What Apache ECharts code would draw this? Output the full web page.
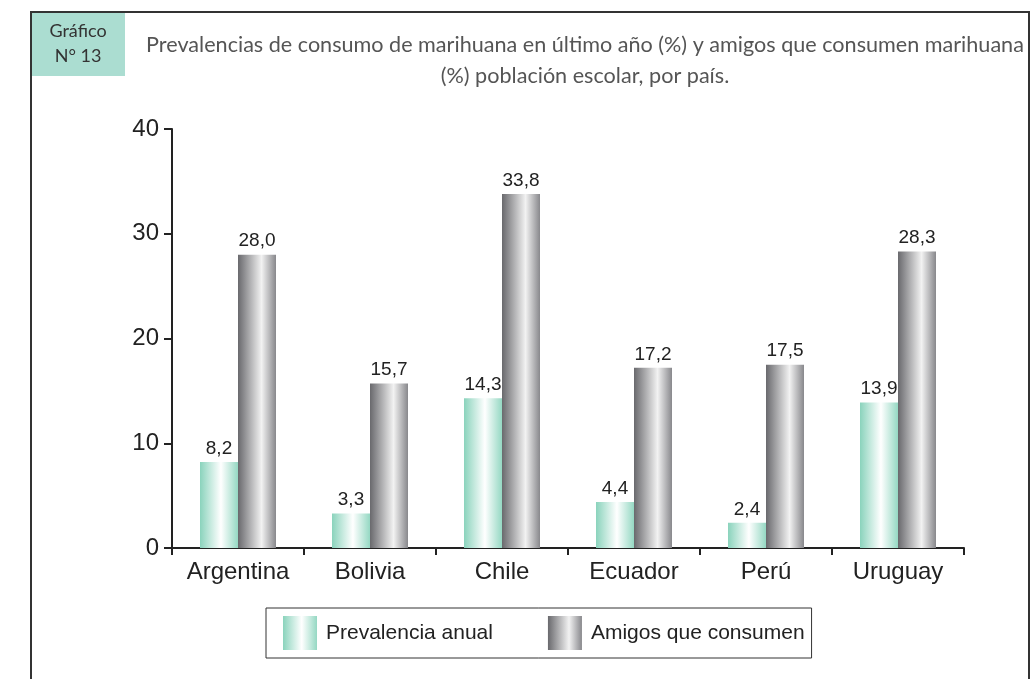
<!DOCTYPE html>
<html>
<head>
<meta charset="utf-8">
<script src="https://cdn.jsdelivr.net/npm/echarts@6/dist/echarts.min.js"></script>
<style>
  html, body { margin: 0; padding: 0; background: #fff; }
  #chart { width: 1032px; height: 679px; }
</style>
</head>
<body>
<div id="chart"></div>
<script>
// datos
const paises = ['Argentina', 'Bolivia', 'Chile', 'Ecuador', 'Perú', 'Uruguay'];
const prevalencia = [8.2, 3.3, 14.3, 4.4, 2.4, 13.9];
const amigos = [28.0, 15.7, 33.8, 17.2, 17.5, 28.3];
const yTicks = [0, 10, 20, 30, 40];

const chart = echarts.init(document.getElementById('chart'));

// degradados de las barras
const verde = new echarts.graphic.LinearGradient(0, 0, 1, 0, [
  { offset: 0, color: '#8ad3bc' },
  { offset: 0.55, color: '#ffffff' },
  { offset: 1, color: '#95d8c3' }
]);
const gris = new echarts.graphic.LinearGradient(0, 0, 1, 0, [
  { offset: 0, color: '#69696d' },
  { offset: 0.62, color: '#f2f2f2' },
  { offset: 1, color: '#88888c' }
]);

const fmt = function (p) {
  return p.value.toFixed(1).replace('.', ',');
};

const labelStyle = {
  show: true,
  position: 'top',
  distance: 4,
  formatter: fmt,
  color: '#222',
  fontFamily: 'Liberation Sans',
  fontSize: 19
};

const option = {
  backgroundColor: '#fff',
  animation: false,
  title: {
    text: 'Prevalencias de consumo de marihuana en último año (%) y amigos que consumen marihuana\n(%) población escolar, por país.',
    left: 580,
    top: 25,
    textAlign: 'center',
    textStyle: {
      color: '#555',
      fontFamily: 'Lato',
      fontWeight: 'normal',
      fontSize: 21.6,
      lineHeight: 31
    }
  },
  graphic: [
    {
      type: 'rect',
      shape: { x: 31, y: 12, width: 998, height: 720 },
      style: { fill: 'none', stroke: '#333', lineWidth: 2 },
      z: -1
    },
    {
      type: 'rect',
      shape: { x: 32, y: 13, width: 93, height: 63 },
      style: { fill: '#abddd1' },
      z: 0
    },
    {
      type: 'text',
      style: {
        text: 'Gráfico\nN° 13',
        x: 78, y: 44,
        textAlign: 'center',
        textVerticalAlign: 'middle',
        fill: '#333',
        font: '18px Lato',
        lineHeight: 25
      },
      z: 1
    }
  ],
  legend: {
    left: 266,
    top: 608,
    padding: [8, 7, 8, 17],
    itemGap: 55,
    itemWidth: 34,
    itemHeight: 34,
    borderColor: '#333',
    borderWidth: 1,
    icon: 'rect',
    textStyle: {
      color: '#222',
      fontFamily: 'Liberation Sans',
      fontSize: 21,
      padding: [0, 0, 0, 4]
    },
    data: ['Prevalencia anual', 'Amigos que consumen']
  },
  grid: {
    left: 172,
    right: 68,
    top: 129,
    bottom: 131
  },
  xAxis: {
    type: 'category',
    data: paises,
    axisLine: { lineStyle: { color: '#222', width: 2 } },
    axisTick: { show: true, length: 7, lineStyle: { color: '#222', width: 2 } },
    axisLabel: {
      interval: 0,
      color: '#222',
      fontFamily: 'Liberation Sans',
      fontSize: 24,
      margin: 12
    }
  },
  yAxis: {
    type: 'value',
    min: yTicks[0],
    max: yTicks[yTicks.length - 1],
    interval: 10,
    axisLine: { show: true, lineStyle: { color: '#222', width: 2 } },
    axisTick: { show: true, length: 8, lineStyle: { color: '#222', width: 2 } },
    splitLine: { show: false },
    axisLabel: {
      color: '#222',
      fontFamily: 'Liberation Sans',
      fontSize: 24,
      margin: 13
    }
  },
  series: [
    {
      name: 'Prevalencia anual',
      type: 'bar',
      data: prevalencia,
      barWidth: 38,
      barGap: '0%',
      itemStyle: { color: verde },
      label: labelStyle
    },
    {
      name: 'Amigos que consumen',
      type: 'bar',
      data: amigos,
      barWidth: 38,
      barGap: '0%',
      itemStyle: { color: gris },
      label: labelStyle
    }
  ]
};

chart.setOption(option);
</script>
</body>
</html>
